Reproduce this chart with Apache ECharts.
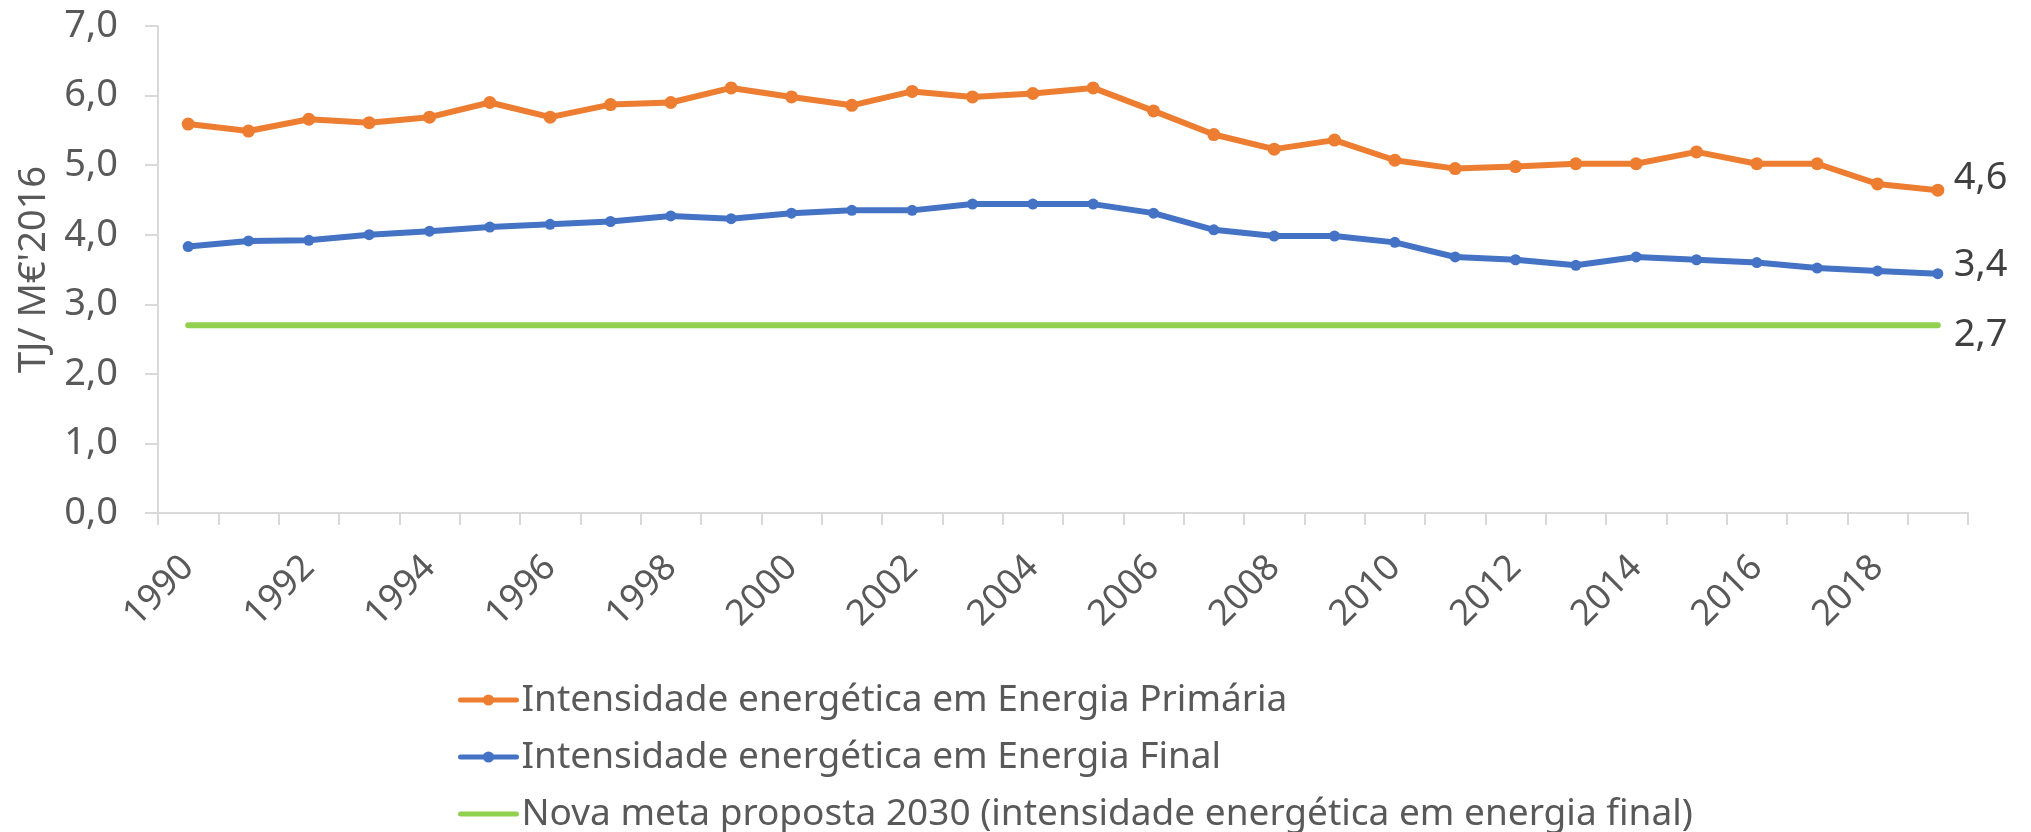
<!DOCTYPE html>
<html>
<head>
<meta charset="utf-8">
<script src="https://cdn.jsdelivr.net/npm/echarts@6/dist/echarts.min.js"></script>
<style>
html,body{margin:0;padding:0;background:#fff;}
#chart{width:2031px;height:832px;}
</style>
</head>
<body>
<div id="chart"></div>
<script>
const years = ['1990','1991','1992','1993','1994','1995','1996','1997','1998','1999','2000','2001','2002','2003','2004','2005','2006','2007','2008','2009','2010','2011','2012','2013','2014','2015','2016','2017','2018','2019'];
const primaryIntensity = [5.59,5.49,5.66,5.61,5.69,5.90,5.69,5.87,5.90,6.11,5.98,5.86,6.06,5.98,6.03,6.11,5.78,5.44,5.23,5.36,5.07,4.95,4.98,5.02,5.02,5.19,5.02,5.02,4.73,4.64];
const finalIntensity = [3.83,3.91,3.92,4.00,4.05,4.11,4.15,4.19,4.27,4.23,4.31,4.35,4.35,4.44,4.44,4.44,4.31,4.07,3.98,3.98,3.89,3.68,3.64,3.56,3.68,3.64,3.60,3.52,3.48,3.44];
const target2030 = [2.7,2.7,2.7,2.7,2.7,2.7,2.7,2.7,2.7,2.7,2.7,2.7,2.7,2.7,2.7,2.7,2.7,2.7,2.7,2.7,2.7,2.7,2.7,2.7,2.7,2.7,2.7,2.7,2.7,2.7];
const seriesNames = ['Intensidade energética em Energia Primária','Intensidade energética em Energia Final','Nova meta proposta 2030 (intensidade energética em energia final)'];
const yAxisName = "TJ/ M€'2016";

const FONT = 'Noto Sans';
const fmt = v => Number(v).toFixed(1).replace('.', ',');

const chart = echarts.init(document.getElementById('chart'));
chart.setOption({
  animation: false,
  backgroundColor: '#ffffff',
  textStyle: { fontFamily: FONT },
  grid: { left: 158, right: 63, top: 26, bottom: 319, containLabel: false },
  legend: {
    orient: 'vertical',
    left: 458,
    top: 680,
    height: 200,
    itemWidth: 56,
    itemHeight: 14,
    itemGap: 17,
    padding: 0,
    data: [
      { name: seriesNames[0] },
      { name: seriesNames[1] },
      { name: seriesNames[2], itemStyle: { opacity: 0 } }
    ],
    lineStyle: { width: 5 },
    textStyle: { fontFamily: FONT, fontSize: 37, color: '#595959', lineHeight: 40 }
  },
  xAxis: {
    type: 'category',
    data: years,
    boundaryGap: true,
    axisLine: { show: true, lineStyle: { color: '#d9d9d9', width: 2 } },
    axisTick: { show: true, interval: 0, length: 12, lineStyle: { color: '#d9d9d9', width: 2 } },
    axisLabel: { interval: 1, rotate: 45, margin: 49, fontSize: 36, color: '#595959', fontFamily: FONT },
    splitLine: { show: false }
  },
  yAxis: {
    type: 'value',
    min: 0, max: 7, interval: 1,
    name: yAxisName,
    nameLocation: 'middle',
    nameRotate: 90,
    nameGap: 102,
    nameTextStyle: { fontSize: 38, color: '#595959', fontFamily: FONT },
    axisLine: { show: true, lineStyle: { color: '#d9d9d9', width: 2 } },
    axisTick: { show: true, length: 13, lineStyle: { color: '#d9d9d9', width: 2 } },
    axisLabel: { margin: 40, fontSize: 38, color: '#595959', fontFamily: FONT, formatter: v => fmt(v) },
    splitLine: { show: false }
  },
  series: [
    {
      name: seriesNames[0], type: 'line', data: primaryIntensity,
      symbol: 'circle', symbolSize: 13, showSymbol: true,
      itemStyle: { color: '#ED7D31' },
      lineStyle: { color: '#ED7D31', width: 6, cap: 'round', join: 'round' },
      endLabel: { show: true, formatter: p => fmt(p.value), distance: 16, offset: [0, -12], fontSize: 38, color: '#404040', fontFamily: FONT },
      z: 4
    },
    {
      name: seriesNames[1], type: 'line', data: finalIntensity,
      symbol: 'circle', symbolSize: 11, showSymbol: true,
      itemStyle: { color: '#4472C4' },
      lineStyle: { color: '#4472C4', width: 6, cap: 'round', join: 'round' },
      endLabel: { show: true, formatter: p => fmt(p.value), distance: 16, offset: [0, -9], fontSize: 38, color: '#404040', fontFamily: FONT },
      z: 3
    },
    {
      name: seriesNames[2], type: 'line', data: target2030,
      symbol: 'none', showSymbol: false,
      itemStyle: { color: '#92D050' },
      lineStyle: { color: '#92D050', width: 6, cap: 'round' },
      endLabel: { show: true, formatter: p => fmt(p.value), distance: 16, offset: [0, 10], fontSize: 38, color: '#404040', fontFamily: FONT },
      z: 2
    }
  ]
});
</script>
</body>
</html>
